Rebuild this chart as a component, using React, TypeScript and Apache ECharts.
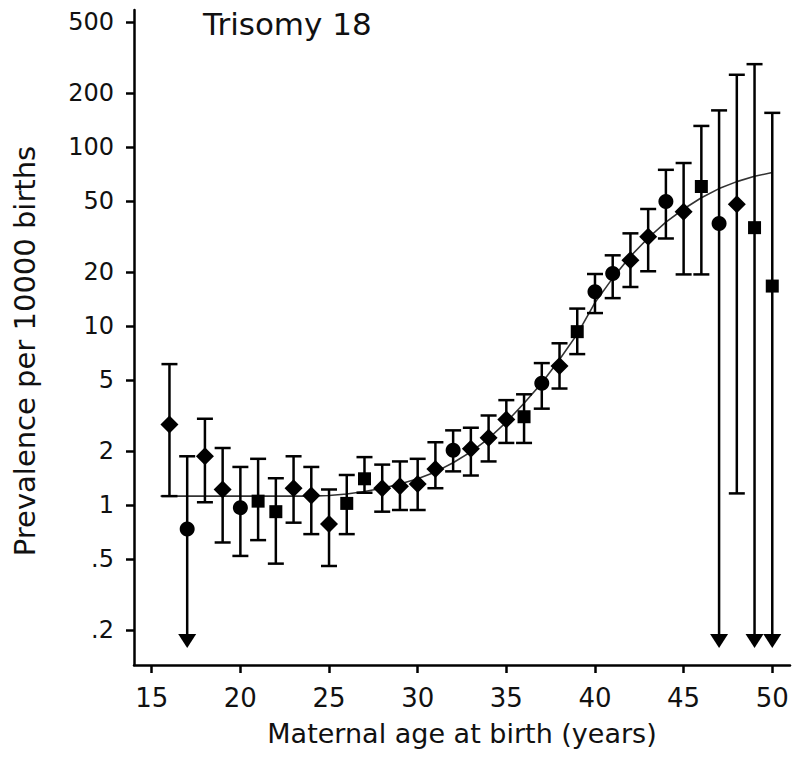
import React, { useEffect, useRef } from "react";
import * as echarts from "echarts";

// ---- data ----
const ages = [16, 17, 18, 19, 20, 21, 22, 23, 24, 25, 26, 27, 28, 29, 30, 31, 32, 33, 34, 35, 36, 37, 38, 39, 40, 41, 42, 43, 44, 45, 46, 47, 48, 49, 50];
const prevalence = [2.81, 0.733, 1.87, 1.22, 0.966, 1.05, 0.917, 1.24, 1.13, 0.782, 1.02, 1.40, 1.24, 1.27, 1.31, 1.59, 2.02, 2.06, 2.37, 3.0, 3.11, 4.78, 5.98, 9.29, 15.5, 19.6, 23.3, 31.5, 49.5, 43.5, 60.1, 37.4, 47.8, 35.4, 16.7];
// null = lower limit below the plotted range (drawn with an arrow)
const lowerCI = [1.12, null, 1.035, 0.617, 0.519, 0.636, 0.47, 0.796, 0.687, 0.456, 0.687, 1.17, 0.917, 0.937, 0.937, 1.24, 1.54, 1.46, 1.75, 2.22, 2.22, 3.45, 4.47, 6.96, 11.8, 14.3, 16.5, 20.2, 30.8, 19.4, 19.4, null, 1.16, null, null];
const upperCI = [6.12, 1.87, 3.03, 2.08, 1.63, 1.81, 1.41, 1.87, 1.63, 1.22, 1.47, 1.85, 1.68, 1.75, 1.81, 2.24, 2.61, 2.70, 3.16, 3.85, 4.15, 6.2, 8.0, 12.5, 19.5, 24.8, 32.9, 45, 74.5, 81.3, 131, 160, 253, 290, 155];
const markerShapes = ["diamond", "circle", "diamond", "diamond", "circle", "rect", "rect", "diamond", "diamond", "diamond", "rect", "rect", "diamond", "diamond", "diamond", "diamond", "circle", "diamond", "diamond", "diamond", "rect", "circle", "diamond", "rect", "circle", "circle", "diamond", "diamond", "circle", "diamond", "rect", "circle", "diamond", "rect", "rect"];
const fitAges = [15.5, 16, 17, 18, 19, 20, 21, 22, 23, 24, 25, 26, 27, 28, 29, 30, 31, 32, 33, 34, 35, 36, 37, 38, 39, 40, 41, 42, 43, 44, 45, 46, 47, 48, 49, 50];
const fitValues = [1.12, 1.12, 1.12, 1.12, 1.12, 1.12, 1.12, 1.12, 1.12, 1.12, 1.13, 1.15, 1.19, 1.24, 1.31, 1.4, 1.53, 1.72, 1.98, 2.35, 2.9, 3.7, 4.8, 6.5, 9.0, 13.5, 18.5, 24.5, 31, 38, 45, 52, 58.5, 64, 68.5, 72];
const xTicks = [15, 20, 25, 30, 35, 40, 45, 50];
const yTicks = [0.2, 0.5, 1, 2, 5, 10, 20, 50, 100, 200, 500];
const xRange = [14, 51];
const yRange = [0.1276, 582];
const arrowFloor = 0.19; // where truncated intervals end (value on the axis)

const titleText = "Trisomy 18";
const xName = "Maternal age at birth (years)";
const yName = "Prevalence per 10000 births";

const lg = (v: number) => Math.log10(v);
const FONT = '"DejaVu Sans", sans-serif';
const INK = "#111";

export default function App() {
  const ref = useRef<HTMLDivElement>(null);
  useEffect(() => {
    if (!ref.current) return;
    const chart = echarts.init(ref.current, undefined, { renderer: "svg" });

    const errData = ages.map((a, i) => [
      a,
      lg(lowerCI[i] == null ? arrowFloor : (lowerCI[i] as number)),
      lg(upperCI[i]),
      lowerCI[i] == null ? 1 : 0,
    ]);
    const ptData = ages.map((a, i) => ({
      value: [a, lg(prevalence[i])],
      symbol: markerShapes[i],
      symbolSize: markerShapes[i] === "rect" ? 13 : markerShapes[i] === "circle" ? 15 : 18,
    }));
    const fitData = fitAges.map((a, i) => [a, lg(fitValues[i])]);

    const option: any = {
      animation: false,
      backgroundColor: "#fff",
      grid: { left: 134, right: 5, top: 10, bottom: 99 },
      xAxis: {
        type: "value",
        min: xRange[0],
        max: xRange[1],
        name: xName,
        nameLocation: "middle",
        nameGap: 55,
        nameTextStyle: { fontFamily: FONT, fontSize: 27, color: INK },
        axisLine: { onZero: false, lineStyle: { color: "#000", width: 2.5 } },
        axisTick: { show: true, length: 8, lineStyle: { color: "#000", width: 2.5 }, customValues: xTicks },
        axisLabel: { customValues: xTicks, fontFamily: FONT, fontSize: 26, color: INK, margin: 20 },
        splitLine: { show: false },
      },
      yAxis: {
        type: "value",
        min: lg(yRange[0]),
        max: lg(yRange[1]),
        axisLine: { show: true, onZero: false, lineStyle: { color: "#000", width: 2.5 } },
        axisTick: { show: true, length: 8, lineStyle: { color: "#000", width: 2.5 }, customValues: yTicks.map(lg) },
        axisLabel: {
          customValues: yTicks.map(lg),
          fontFamily: FONT,
          fontSize: 24,
          color: INK,
          margin: 20,
          formatter: (v: number) => {
            const r = Math.pow(10, v);
            if (r < 1) return "." + Math.round(r * 10);
            return String(Math.round(r));
          },
        },
        splitLine: { show: false },
      },
      graphic: [
        {
          type: "text",
          left: 203,
          top: 8,
          style: { text: titleText, font: `31px ${FONT}`, fill: INK },
        },
        {
          type: "text",
          x: 25,
          y: 351,
          rotation: Math.PI / 2,
          style: { text: yName, font: `29px ${FONT}`, fill: INK, align: "center", verticalAlign: "middle" },
        },
      ],
      series: [
        {
          type: "line",
          data: fitData,
          symbol: "none",
          lineStyle: { color: "#333", width: 1.6 },
          z: 2,
        },
        {
          type: "custom",
          data: errData,
          encode: { x: 0, y: [1, 2] },
          z: 3,
          renderItem: (params: any, api: any) => {
            const x = api.value(0);
            const lo = api.value(1);
            const hi = api.value(2);
            const trunc = api.value(3);
            const pTop = api.coord([x, hi]);
            const pBot = api.coord([x, lo]);
            const st = { stroke: "#000", lineWidth: 2.5 };
            const cap = 8;
            const children: any[] = [
              { type: "line", shape: { x1: pTop[0], y1: pTop[1], x2: pBot[0], y2: pBot[1] }, style: st },
              { type: "line", shape: { x1: pTop[0] - cap, y1: pTop[1], x2: pTop[0] + cap, y2: pTop[1] }, style: st },
            ];
            if (trunc) {
              children.push({
                type: "polygon",
                shape: { points: [[pBot[0] - 9, pBot[1]], [pBot[0] + 9, pBot[1]], [pBot[0], pBot[1] + 14]] },
                style: { fill: "#000" },
              });
            } else {
              children.push({ type: "line", shape: { x1: pBot[0] - cap, y1: pBot[1], x2: pBot[0] + cap, y2: pBot[1] }, style: st });
            }
            return { type: "group", children };
          },
        },
        {
          type: "scatter",
          data: ptData,
          itemStyle: { color: "#000", opacity: 1 },
          z: 4,
        },
      ],
    };
    chart.setOption(option);
    return () => chart.dispose();
  }, []);
  return <div ref={ref} style={{ width: 795, height: 764, position: "absolute", left: 0, top: 0 }} />;
}
